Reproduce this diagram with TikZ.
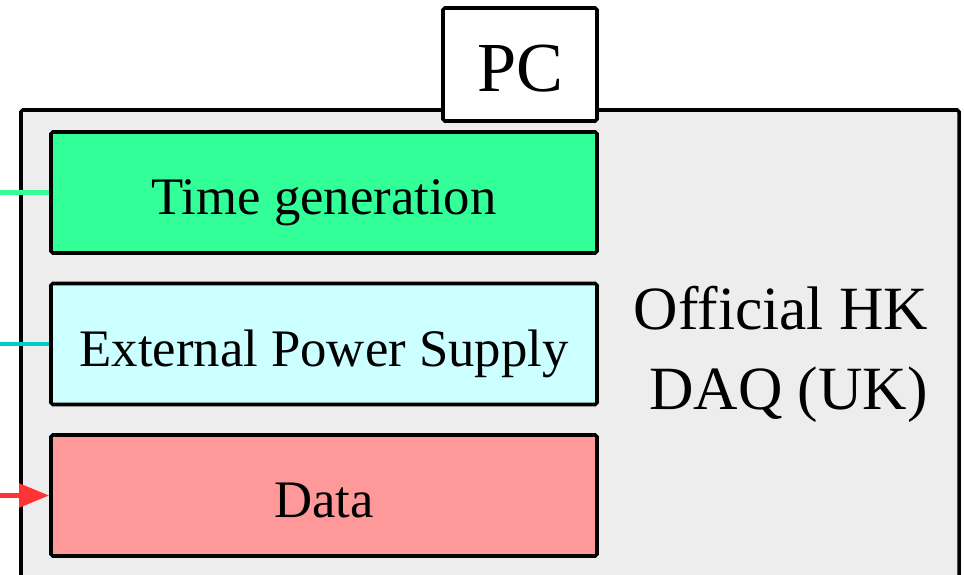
\documentclass[tikz,border=0pt]{standalone}
\usepackage{fontspec}
\setmainfont{Liberation Serif}
\usepackage{tikz}
\usetikzlibrary{arrows.meta}

\definecolor{timegreen}{RGB}{51,255,153}
\definecolor{powercyan}{RGB}{204,255,255}
\definecolor{powerline}{RGB}{0,204,204}
\definecolor{datared}{RGB}{255,153,153}
\definecolor{dataline}{RGB}{255,51,51}
\definecolor{daqgrey}{RGB}{237,237,237}

\tikzset{
 unit/.style={draw, line width=2pt, rounded corners=1pt, minimum width=10.92cm, minimum height=2.42cm, inner sep=0pt, text height=0.88cm, text depth=0cm, font=\fontsize{30}{36}\selectfont},
 feed/.style={line width=2.8pt}
}

\begin{document}
\begin{tikzpicture}
 \clip (0,0) rectangle (19.28,11.48);
 \useasboundingbox (0,0) rectangle (19.28,11.48);
 \draw[line width=2pt, fill=daqgrey, rounded corners=1pt] (0.42,-1) rectangle (19.18,9.28);
 \node[draw, line width=2pt, fill=white, rounded corners=1pt, minimum width=3.08cm, minimum height=2.26cm, inner sep=0pt, text height=1.1cm, text depth=0cm, font=\fontsize{40}{44}\selectfont] (pc) at (10.40,10.19) {PC};
 \node[align=center, font=\fontsize{35}{45.5}\selectfont] (daq) at (15.62,4.40) {Official HK\\ \hspace{0.3cm}DAQ (UK)};
 \node[unit, fill=timegreen] (timegen) at (6.48,7.63) {Time generation};
 \node[unit, fill=powercyan] (power) at (6.48,4.60) {External Power Supply};
 \node[unit, fill=datared] (data) at (6.48,1.57) {Data};
 \coordinate (timein) at (-0.1,7.63);
 \coordinate (powerin) at (-0.1,4.60);
 \coordinate (datain) at (-0.1,1.57);
 \draw[feed, timegreen] (timein) -- (timegen);
 \draw[feed, powerline] (powerin) -- (power);
 \draw[feed, dataline, -{Triangle[length=0.6cm, width=0.46cm]}] (datain) -- (data);
\end{tikzpicture}
\end{document}
